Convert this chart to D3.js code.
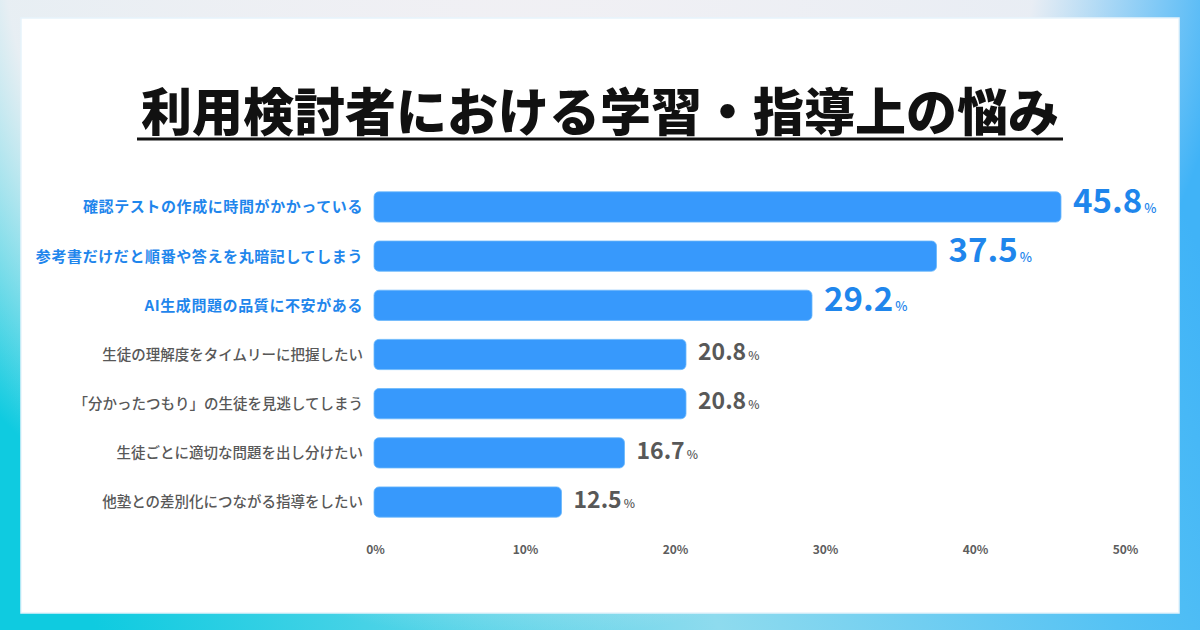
<!DOCTYPE html>
<html>
<head>
<meta charset="utf-8">
<script src="https://cdn.jsdelivr.net/npm/d3@7.9.0/dist/d3.min.js"></script>
<style>
  html, body { margin: 0; padding: 0; }
  body { width: 1200px; height: 630px; overflow: hidden; }
  svg { display: block; font-family: "Noto Sans CJK JP", "Noto Sans", sans-serif; }
</style>
</head>
<body>
<div id="chart"></div>
<script>
// data
const titleText = '利用検討者における学習・指導上の悩み';
const categories = [
    '確認テストの作成に時間がかかっている',
    '参考書だけだと順番や答えを丸暗記してしまう',
    'AI生成問題の品質に不安がある',
    '生徒の理解度をタイムリーに把握したい',
    '「分かったつもり」の生徒を見逃してしまう',
    '生徒ごとに適切な問題を出し分けたい',
    '他塾との差別化につながる指導をしたい'
];
const values = [45.8, 37.5, 29.2, 20.8, 20.8, 16.7, 12.5];
const ticks = [0, 10, 20, 30, 40, 50];
const highlightCount = 3;

const width = 1200;
const height = 630;

const svg = d3.select('#chart')
    .append('svg')
    .attr('width', width)
    .attr('height', height);

const defs = svg.append('defs');

// frame gradient: cyan on the left, blue on the right
const bg = defs.append('linearGradient')
    .attr('id', 'bg')
    .attr('x1', 0).attr('y1', 0.6).attr('x2', 1).attr('y2', 0.4);
bg.append('stop').attr('offset', '0%').attr('stop-color', '#0fcbe0');
bg.append('stop').attr('offset', '50%').attr('stop-color', '#8edbee');
bg.append('stop').attr('offset', '82%').attr('stop-color', '#55c2f4');
bg.append('stop').attr('offset', '100%').attr('stop-color', '#40b3f7');

// light haze over the top-left
const haze = defs.append('radialGradient')
    .attr('id', 'haze')
    .attr('gradientUnits', 'userSpaceOnUse')
    .attr('cx', 520).attr('cy', -80).attr('r', 720);
haze.append('stop').attr('offset', '0%').attr('stop-color', '#f1f0f4').attr('stop-opacity', 1);
haze.append('stop').attr('offset', '72%').attr('stop-color', '#f1f0f4').attr('stop-opacity', 0.95);
haze.append('stop').attr('offset', '100%').attr('stop-color', '#f1f0f4').attr('stop-opacity', 0);

svg.append('rect').attr('width', width).attr('height', height).attr('fill', 'url(#bg)');
svg.append('rect').attr('width', width).attr('height', height).attr('fill', 'url(#haze)');

// white card
svg.append('rect')
    .attr('x', 21).attr('y', 18)
    .attr('width', 1158).attr('height', 595)
    .attr('fill', '#ffffff')
    .attr('stroke', '#e6f3fb')
    .attr('stroke-width', 1.5);

// title
svg.append('text')
    .attr('x', 600)
    .attr('y', 131)
    .attr('text-anchor', 'middle')
    .attr('font-size', '51px')
    .attr('font-weight', 900)
    .attr('fill', '#111')
    .text(titleText);

svg.append('rect')
    .attr('x', 137).attr('y', 137.5)
    .attr('width', 926).attr('height', 3)
    .attr('fill', '#111');

// scales
const margin = { left: 374, right: 1124, top: 182, bottom: 527 };

const xScale = d3.scaleLinear()
    .domain([0, 50])
    .range([margin.left, margin.right]);

const yScale = d3.scaleBand()
    .domain(categories)
    .range([margin.top, margin.bottom])
    .paddingInner(0.385)
    .paddingOuter(0.2);

const blue = '#1f86ec';
const gray = '#585858';
const isHi = (i) => i < highlightCount;

const rows = svg.append('g').attr('class', 'rows')
    .selectAll('g')
    .data(categories.map((c, i) => ({ cat: c, val: values[i], i })))
    .enter()
    .append('g');

rows.append('rect')
    .attr('x', xScale(0))
    .attr('y', d => yScale(d.cat))
    .attr('width', d => xScale(d.val) - xScale(0))
    .attr('height', yScale.bandwidth())
    .attr('rx', 5)
    .attr('fill', '#3799fc')
    .attr('stroke', '#6ab7fb')
    .attr('stroke-width', 0.8);

// category labels
rows.append('text')
    .attr('x', xScale(0) - 11)
    .attr('y', d => yScale(d.cat) + yScale.bandwidth() / 2)
    .attr('dy', '0.36em')
    .attr('text-anchor', 'end')
    .attr('font-size', d => isHi(d.i) ? '15px' : '14.5px')
    .attr('font-weight', d => isHi(d.i) ? 700 : 500)
    .attr('letter-spacing', d => isHi(d.i) ? '0.6px' : '0px')
    .attr('fill', d => isHi(d.i) ? blue : gray)
    .text(d => d.cat);

// value labels
const valText = rows.append('text')
    .attr('x', d => xScale(d.val) + 12)
    .attr('y', d => yScale(d.cat) + yScale.bandwidth() / 2)
    .attr('dy', '0.36em')
    .attr('font-weight', 700)
    .attr('fill', d => isHi(d.i) ? blue : gray);

valText.append('tspan')
    .attr('font-size', d => isHi(d.i) ? '33px' : '23px')
    .text(d => d.val.toFixed(1));

valText.append('tspan')
    .attr('font-size', d => isHi(d.i) ? '13px' : '12px')
    .attr('font-weight', 500)
    .attr('dx', 2)
    .text('%');

// x axis labels
const xAxis = svg.append('g')
    .attr('class', 'x-axis')
    .attr('transform', `translate(1, 550)`)
    .call(d3.axisBottom(xScale).tickValues(ticks).tickSize(0).tickPadding(0).tickFormat(d => d + '%'));

xAxis.select('.domain').remove();
xAxis.selectAll('text')
    .attr('y', 0)
    .attr('dy', '0.36em')
    .attr('font-size', '12px')
    .attr('font-weight', 700)
    .attr('font-family', '"Noto Sans CJK JP", "Noto Sans", sans-serif')
    .attr('fill', '#5d5d5d');
</script>
</body>
</html>
